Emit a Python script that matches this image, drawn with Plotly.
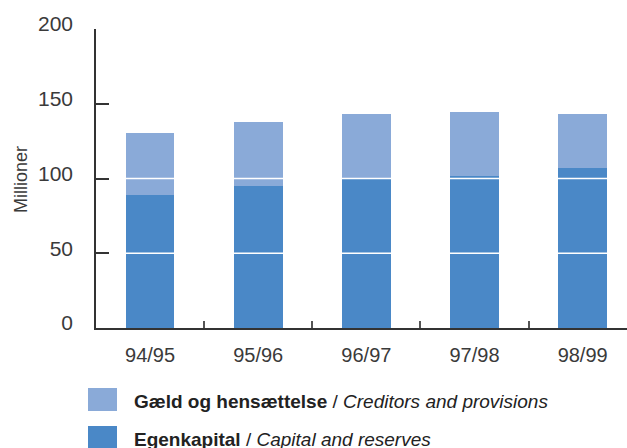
import plotly.graph_objects as go

categories = ["94/95", "95/96", "96/97", "97/98", "98/99"]
egenkapital = [88.9, 94.9, 99.8, 101.6, 106.9]
total = [130.3, 137.7, 143.0, 144.3, 143.0]
gaeld = [round(t - e, 1) for t, e in zip(total, egenkapital)]
y_ticks = [0, 50, 100, 150, 200]
white_lines = [50, 100]

color_gaeld = "#8AAAD8"
color_egen = "#4A88C7"
text_color = "#3a3a3a"
FONT = "Liberation Sans, Arial, sans-serif"

W, H = 627, 448
ML, MR, MT, MB = 96, 0, 29, 120
PW, PH = W - ML - MR, H - MT - MB


def px_x(x):
    return (x - ML) / PW


def px_y(y):
    return (H - MB - y) / PH


fig = go.Figure()
fig.add_trace(go.Bar(x=categories, y=egenkapital, name="Egenkapital",
                     marker=dict(color=color_egen, line=dict(width=0)), width=0.45))
fig.add_trace(go.Bar(x=categories, y=gaeld, name="Gæld og hensættelse",
                     marker=dict(color=color_gaeld, line=dict(width=0)), width=0.45))

shapes = []
for v in white_lines:
    shapes.append(dict(type="line", xref="x domain", yref="y", x0=0.03, x1=1, y0=v, y1=v,
                       line=dict(color="white", width=1.5), layer="above"))

legend_items = [
    (color_gaeld, "<b>Gæld og hensættelse</b> / <i>Creditors and provisions</i>", 388, 411, 401),
    (color_egen, "<b>Egenkapital</b> / <i>Capital and reserves</i>", 426, 449, 439),
]
annotations = []
for col, txt, y0, y1, yc in legend_items:
    shapes.append(dict(type="rect", xref="paper", yref="paper",
                       x0=px_x(88), x1=px_x(117), y0=px_y(y1), y1=px_y(y0),
                       fillcolor=col, line=dict(width=0)))
    annotations.append(dict(xref="paper", yref="paper", x=px_x(132), y=px_y(yc),
                            xanchor="left", yanchor="middle", text=txt, showarrow=False,
                            font=dict(family=FONT, size=19, color="#222")))

annotations.append(dict(xref="paper", yref="paper", x=px_x(21), y=px_y(180),
                        xanchor="center", yanchor="middle", text="Millioner", textangle=-90,
                        showarrow=False, font=dict(family=FONT, size=18, color=text_color)))

fig.update_layout(
    barmode="stack",
    width=W, height=H, autosize=False,
    margin=dict(l=ML, r=MR, t=MT, b=MB, autoexpand=False),
    plot_bgcolor="white", paper_bgcolor="white",
    showlegend=False,
    shapes=shapes, annotations=annotations,
    font=dict(family=FONT, color=text_color),
)
fig.update_xaxes(
    type="category", range=[-0.5, 4.41], automargin=False,
    tickson="boundaries", ticks="inside", ticklen=7, tickwidth=1.5, tickcolor="#555",
    showline=True, linecolor="#333", linewidth=1.5,
    showgrid=False, tickfont=dict(size=20, color=text_color), ticklabelstandoff=8,
)
fig.update_yaxes(
    range=[0, 200], tickvals=y_ticks, ticks="inside", ticklen=13, tickwidth=1.5,
    tickcolor="#333", showline=True, linecolor="#333", linewidth=1.5, automargin=False,
    showgrid=False, zeroline=False, tickfont=dict(size=21, color=text_color),
    ticklabelstandoff=17, ticklabelshift=-5,
)

fig.write_html("out.html", config={"displayModeBar": False},
               post_script="document.body.style.margin='0px';")
